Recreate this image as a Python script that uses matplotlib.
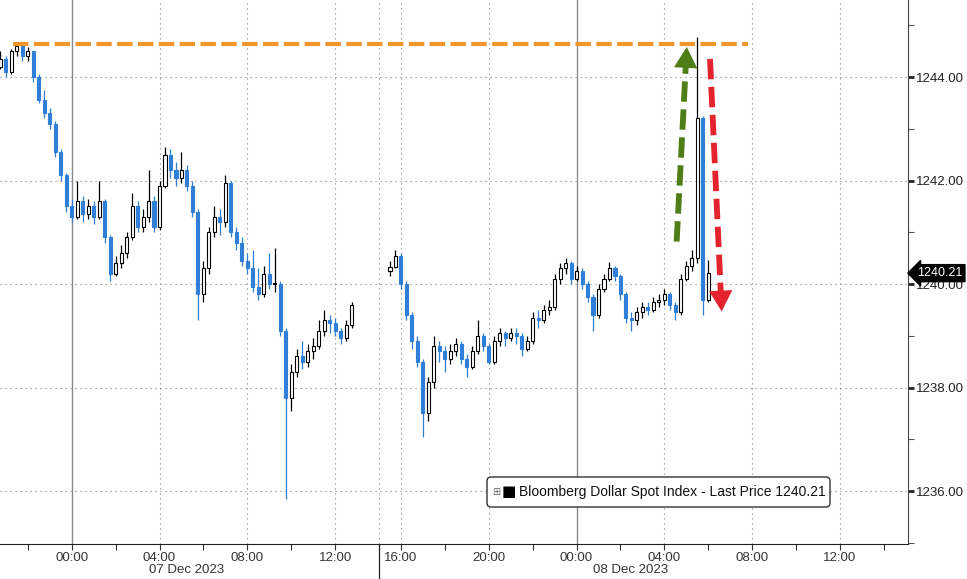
import numpy as np
import pandas as pd
import matplotlib
matplotlib.use("Agg")
import matplotlib.pyplot as plt
from matplotlib.patches import FancyBboxPatch
from matplotlib.transforms import IdentityTransform

plt.rcParams["font.family"] = ["Liberation Sans", "DejaVu Sans"]

# 15 minute bars, session 1 (06 Dec evening -> 07 Dec midday)
s1_start = "2023-12-06 20:45"
s1_open = 1244.20
s1_close = [1244.35, 1244.10, 1244.50, 1244.60, 1244.40, 1244.50, 1244.00, 1243.55, 1243.30, 1243.10,
            1242.55, 1242.10, 1241.50, 1241.30, 1241.60, 1241.35, 1241.50, 1241.30, 1241.60, 1240.90,
            1240.20, 1240.40, 1240.60, 1240.90, 1241.50, 1241.10, 1241.30, 1241.60, 1241.10, 1241.90,
            1242.50, 1242.20, 1242.05, 1242.20, 1241.90, 1241.40, 1239.80, 1240.30, 1241.00, 1241.30,
            1241.20, 1241.95, 1241.00, 1240.80, 1240.45, 1240.30, 1239.95, 1239.80, 1240.20, 1240.00,
            1240.00, 1239.10, 1237.80, 1238.30, 1238.60, 1238.50, 1238.70, 1238.80, 1239.10, 1239.30,
            1239.25, 1239.10, 1238.95, 1239.20, 1239.60]
s1_high = [1244.50, 1244.40, 1244.55, 1244.68, 1244.62, 1244.58, 1244.50, 1244.05, 1243.75, 1243.40,
           1243.15, 1242.60, 1242.15, 1241.65, 1242.00, 1241.70, 1241.65, 1241.60, 1242.00, 1241.65,
           1240.95, 1240.55, 1240.75, 1241.00, 1241.75, 1241.60, 1241.45, 1242.20, 1241.70, 1242.00,
           1242.65, 1242.60, 1242.35, 1242.55, 1242.30, 1242.00, 1241.45, 1240.45, 1241.10, 1241.50,
           1241.45, 1242.10, 1242.00, 1241.10, 1240.90, 1240.60, 1240.65, 1240.30, 1240.35, 1240.60,
           1240.70, 1240.05, 1239.15, 1238.45, 1238.75, 1238.90, 1238.85, 1238.95, 1239.30, 1239.50,
           1239.40, 1239.35, 1239.15, 1239.30, 1239.65]
s1_low = [1244.15, 1244.00, 1244.05, 1244.40, 1244.30, 1244.30, 1243.90, 1243.50, 1243.20, 1243.00,
          1242.45, 1242.00, 1241.40, 1241.20, 1241.25, 1241.20, 1241.25, 1241.15, 1241.25, 1240.80,
          1240.05, 1240.15, 1240.30, 1240.50, 1240.85, 1241.00, 1241.00, 1241.20, 1241.00, 1241.05,
          1241.85, 1242.05, 1241.90, 1241.95, 1241.80, 1241.30, 1239.30, 1239.65, 1240.20, 1240.90,
          1240.95, 1241.10, 1240.90, 1240.65, 1240.35, 1240.20, 1239.85, 1239.70, 1239.75, 1239.90,
          1239.85, 1239.00, 1235.85, 1237.55, 1238.20, 1238.35, 1238.40, 1238.55, 1238.75, 1239.00,
          1239.05, 1239.00, 1238.85, 1238.90, 1239.15]

# session 2 (07 Dec afternoon -> 08 Dec morning)
s2_start = "2023-12-07 15:30"
s2_open = 1240.25
s2_close = [1240.33, 1240.55, 1240.00, 1239.40, 1238.90, 1238.50, 1237.50, 1238.10, 1238.80, 1238.70,
            1238.55, 1238.70, 1238.85, 1238.55, 1238.40, 1238.70, 1239.00, 1238.80, 1238.50, 1238.90,
            1239.05, 1238.95, 1239.05, 1239.00, 1238.75, 1238.90, 1239.35, 1239.30, 1239.50, 1239.55,
            1240.10, 1240.30, 1240.40, 1240.10, 1240.25, 1240.00, 1239.75, 1239.40, 1239.90, 1240.10,
            1240.30, 1240.15, 1239.80, 1239.35, 1239.30, 1239.45, 1239.55, 1239.50, 1239.65, 1239.70,
            1239.80, 1239.60, 1239.45, 1240.10, 1240.35, 1240.50, 1243.20, 1239.70, 1240.21]
s2_high = [1240.45, 1240.65, 1240.60, 1240.05, 1239.45, 1239.00, 1238.55, 1238.20, 1239.00, 1238.90,
           1238.80, 1238.85, 1238.95, 1238.90, 1238.65, 1238.80, 1239.30, 1239.05, 1238.85, 1239.00,
           1239.15, 1239.10, 1239.15, 1239.15, 1239.05, 1239.00, 1239.45, 1239.50, 1239.60, 1239.70,
           1240.20, 1240.40, 1240.50, 1240.45, 1240.35, 1240.30, 1240.05, 1239.80, 1240.00, 1240.20,
           1240.42, 1240.35, 1240.20, 1239.85, 1239.45, 1239.55, 1239.65, 1239.65, 1239.75, 1239.80,
           1239.90, 1239.85, 1239.65, 1240.20, 1240.45, 1240.66, 1244.77, 1243.25, 1240.47]
s2_low = [1240.15, 1240.30, 1239.90, 1239.30, 1238.75, 1238.40, 1237.05, 1237.35, 1238.00, 1238.50,
          1238.30, 1238.45, 1238.60, 1238.45, 1238.20, 1238.35, 1238.65, 1238.70, 1238.45, 1238.45,
          1238.80, 1238.80, 1238.90, 1238.85, 1238.60, 1238.70, 1238.85, 1239.15, 1239.25, 1239.40,
          1239.50, 1240.00, 1240.20, 1240.00, 1240.05, 1239.90, 1239.65, 1239.10, 1239.35, 1239.85,
          1240.05, 1240.05, 1239.70, 1239.25, 1239.10, 1239.20, 1239.35, 1239.40, 1239.45, 1239.55,
          1239.60, 1239.50, 1239.30, 1239.40, 1240.05, 1240.25, 1240.40, 1239.40, 1239.65]

last_price = 1240.21
prior_high = 1244.64

UP_EDGE = "black"
DOWN_COL = "#2f7fd6"
GRID = "#7f7f7f"


def axis_pos(ts):
    # hours from 07 Dec 00:00, with the 14:00-15:00 gap squeezed out
    h = (ts - pd.Timestamp("2023-12-07")) / pd.Timedelta(hours=1)
    h = np.asarray(h, dtype=float)
    return np.where(h >= 14, h - 1, h)


def draw_bars(ax, start, first_open, close, high, low):
    close = np.array(close)
    opn = np.concatenate([[first_open], close[:-1]])
    t = pd.date_range(start, periods=len(close), freq="15min")
    x = axis_pos(t)
    up = close >= opn
    bottom = np.minimum(opn, close)
    height = np.maximum(np.abs(close - opn), 0.02)
    for m, fc, ec in [(up, "white", UP_EDGE), (~up, DOWN_COL, DOWN_COL)]:
        ax.vlines(x[m], np.array(low)[m], np.array(high)[m], color=ec, lw=0.9, zorder=3)
        ax.bar(x[m], height[m], bottom=bottom[m], width=0.14, facecolor=fc,
               edgecolor=ec, linewidth=0.8, zorder=4)


def dashed_arrow(ax, tail, tip, color):
    # dashed shaft, solid head
    frac = 0.93
    mid = (tail[0] + (tip[0] - tail[0]) * frac, tail[1] + (tip[1] - tail[1]) * frac)
    ax.plot([tail[0], mid[0]], [tail[1], mid[1]], color=color, lw=4.2,
            ls=(0, (3.5, 1.3)), solid_capstyle="butt", dash_capstyle="butt", zorder=6)
    ax.annotate("", xy=tip, xytext=mid,
                arrowprops=dict(arrowstyle="-|>,head_length=0.75,head_width=0.42",
                                mutation_scale=20, fc=color, ec=color, lw=0,
                                shrinkA=0, shrinkB=0), zorder=6)


fig = plt.figure(figsize=(9.67, 5.79), dpi=100)
ax = fig.add_axes([0, 1 - 544 / 579, 908 / 967, 544 / 579])

draw_bars(ax, s1_start, s1_open, s1_close, s1_high, s1_low)
draw_bars(ax, s2_start, s2_open, s2_close, s2_high, s2_low)

ax.set_xlim(-3.267, 38.10)
ax.set_ylim(1234.976, 1245.488)

# grid
for y in [1236, 1238, 1240, 1242, 1244]:
    ax.axhline(y, color=GRID, lw=0.8, ls=(0, (1, 3.5)), zorder=1)
dotted_times = ["2023-12-07 04:00", "2023-12-07 08:00", "2023-12-07 12:00", "2023-12-07 16:00",
                "2023-12-07 20:00", "2023-12-08 04:00", "2023-12-08 08:00", "2023-12-08 12:00"]
for x in axis_pos(pd.to_datetime(dotted_times)):
    ax.axvline(x, color=GRID, lw=0.8, ls=(0, (1, 3.5)), zorder=1)
ax.axvline(14, color=GRID, lw=0.8, ls=(0, (1, 3.5)), zorder=1)
for x in axis_pos(pd.to_datetime(["2023-12-07 00:00", "2023-12-08 00:00"])):
    ax.axvline(x, color="#8a8a8a", lw=1.0, zorder=1)

# x axis
label_times = pd.to_datetime(["2023-12-07 00:00", "2023-12-07 04:00", "2023-12-07 08:00",
                              "2023-12-07 12:00", "2023-12-07 16:00", "2023-12-07 20:00",
                              "2023-12-08 00:00", "2023-12-08 04:00", "2023-12-08 08:00",
                              "2023-12-08 12:00"])
minor_times = pd.to_datetime(["2023-12-06 22:00", "2023-12-07 02:00", "2023-12-07 06:00",
                              "2023-12-07 10:00", "2023-12-07 18:00", "2023-12-07 22:00",
                              "2023-12-08 02:00", "2023-12-08 06:00", "2023-12-08 10:00",
                              "2023-12-08 14:00"])
ax.set_xticks(axis_pos(label_times))
ax.set_xticklabels([t.strftime("%H:%M") for t in label_times])
ax.set_xticks(list(axis_pos(minor_times)) + [14], minor=True)
ax.tick_params(axis="x", which="both", direction="out", length=4, width=0.8,
               colors="#333333", labelsize=9.5, pad=2)

# y axis on the right
ax.yaxis.tick_right()
ax.set_yticks([1236, 1238, 1240, 1242, 1244])
ax.set_yticklabels([f"{v:.2f}" for v in [1236, 1238, 1240, 1242, 1244]])
ax.set_yticks([1235, 1237, 1239, 1241, 1243, 1245], minor=True)
ax.tick_params(axis="y", which="major", direction="out", length=4, width=2,
               colors="#222222", labelsize=9.5, pad=2)
ax.tick_params(axis="y", which="minor", direction="out", length=4, width=0.8, colors="#555555")

for side in ["top", "left"]:
    ax.spines[side].set_visible(False)
ax.spines["right"].set_color("#444444")
ax.spines["bottom"].set_color("#222222")

# session separator under the axis
ax.plot([14, 14], [0, -35 / 544], transform=ax.get_xaxis_transform(),
        color="#222222", lw=0.9, clip_on=False)
fig.text(187 / 967, 1 - 570 / 579, "07 Dec 2023", ha="center", va="center",
         fontsize=9.5, color="#333333")
fig.text(631 / 967, 1 - 570 / 579, "08 Dec 2023", ha="center", va="center",
         fontsize=9.5, color="#333333")

# prior high level and arrows
ax.hlines(prior_high, -2.67, 30.8, color="#f0962c", lw=3.0, ls=(0, (3.7, 1.3)), zorder=5)
dashed_arrow(ax, (27.56, 1240.82), (28.02, 1244.58), "#4f7d17")
dashed_arrow(ax, (29.08, 1244.35), (29.61, 1239.47), "#e3232e")

# last price tag
ax.text(1.01, last_price, f"{last_price:.2f}", transform=ax.get_yaxis_transform(),
        ha="left", va="center", fontsize=9, color="white", zorder=10,
        bbox=dict(boxstyle="larrow,pad=0.2", fc="black", ec="black"), clip_on=False)

# legend box
box = FancyBboxPatch((487, 579 - 507), 343, 30, boxstyle="round,pad=0,rounding_size=4",
                     transform=IdentityTransform(), fc="white", ec="#333333", lw=1.0, zorder=20)
fig.add_artist(box)
fig.text(496 / 967, 1 - 492 / 579, "\u229e", ha="center", va="center", fontsize=7,
         color="#666666", family="DejaVu Sans", zorder=21)
fig.text(509 / 967, 1 - 492 / 579, "\u25a0", ha="center", va="center", fontsize=11,
         color="black", family="DejaVu Sans", zorder=21)
fig.text(519 / 967, 1 - 492 / 579, f"Bloomberg Dollar Spot Index - Last Price {last_price:.2f}",
         ha="left", va="center", fontsize=10, color="#111111", zorder=21)

fig.savefig("out.png", dpi=100)
